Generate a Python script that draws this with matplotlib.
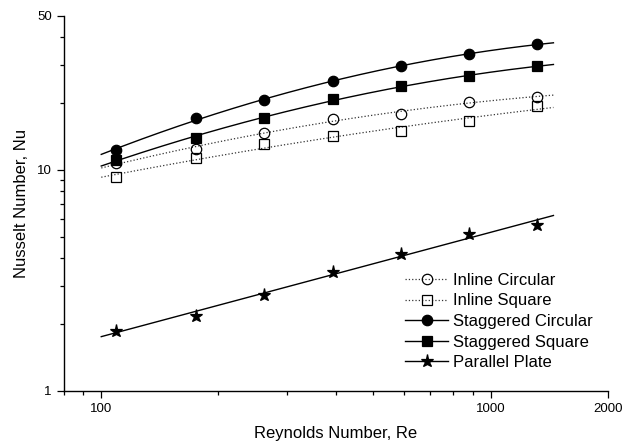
import numpy as np
import matplotlib
matplotlib.use("Agg")
import matplotlib.pyplot as plt
from matplotlib.ticker import FixedLocator, NullFormatter, FixedFormatter

plt.rcParams['font.family'] = ['Liberation Sans', 'DejaVu Sans']

# Data
re_vals = [109, 175, 262, 393, 587, 881, 1316]
inline_circular = [10.7, 12.5, 14.7, 17.05, 17.97, 20.4, 21.4]
inline_square = [9.32, 11.3, 13.08, 14.2, 15.0, 16.6, 19.5]
staggered_circular = [12.37, 17.12, 20.74, 25.2, 29.5, 33.6, 37.0]
staggered_square = [11.1, 14.0, 17.2, 20.95, 23.9, 26.7, 29.4]
parallel_plate = [1.87, 2.19, 2.73, 3.45, 4.18, 5.15, 5.62]

series_names = ["Inline Circular", "Inline Square", "Staggered Circular",
                "Staggered Square", "Parallel Plate"]
fit_range = (100, 1450)
x_ticks = [100, 1000, 2000]
x_ticklabels = ["100", "1000", "2000"]
y_ticks = [1, 10, 50]
y_ticklabels = ["1", "10", "50"]

fig = plt.figure(figsize=(6.34, 4.47), dpi=100)
ax = fig.add_axes([0.1002, 0.1253, 0.9587 - 0.1002, 0.9653 - 0.1253])

def fit_curve(x, y, deg):
    lx, ly = np.log10(x), np.log10(y)
    c = np.polyfit(lx, ly, deg)
    xf = np.logspace(np.log10(fit_range[0]), np.log10(fit_range[1]), 200)
    return xf, 10 ** np.polyval(c, np.log10(xf))

styles = [
    (inline_circular, 'o', ':', 'none', 7.5, 2),
    (inline_square, 's', ':', 'none', 6.8, 2),
    (staggered_circular, 'o', '-', 'black', 7.5, 2),
    (staggered_square, 's', '-', 'black', 6.8, 2),
    (parallel_plate, '*', '-', 'black', 9.5, 1),
]

handles = []
for (yv, mk, ls, fc, ms, deg), name in zip(styles, series_names):
    xf, yf = fit_curve(re_vals, yv, deg)
    lw = 0.9 if ls == ':' else 1.0
    col = '#333333' if ls == ':' else 'black'
    ax.plot(xf, yf, linestyle=ls, color=col, lw=lw, zorder=2)
    ax.plot(re_vals, yv, linestyle='none', marker=mk, ms=ms,
            mfc=fc, mec='black', mew=0.9, zorder=3)
    h, = ax.plot([], [], linestyle=ls, color=col, lw=lw, marker=mk, ms=ms,
                 mfc=fc, mec='black', mew=0.9)
    handles.append(h)

ax.set_xscale('log')
ax.set_yscale('log')
ax.set_xlim(80, 2000)
ax.set_ylim(1, 50)

ax.xaxis.set_major_locator(FixedLocator(x_ticks))
ax.xaxis.set_major_formatter(FixedFormatter(x_ticklabels))
ax.xaxis.set_minor_locator(FixedLocator([80, 90, 200, 300, 400, 500, 600, 700, 800, 900]))
ax.xaxis.set_minor_formatter(NullFormatter())
ax.yaxis.set_major_locator(FixedLocator(y_ticks))
ax.yaxis.set_major_formatter(FixedFormatter(y_ticklabels))
ax.yaxis.set_minor_locator(FixedLocator([2, 3, 4, 5, 6, 7, 8, 9, 20, 30, 40]))
ax.yaxis.set_minor_formatter(NullFormatter())

ax.spines['top'].set_visible(False)
ax.spines['right'].set_visible(False)
for s in ('left', 'bottom'):
    ax.spines[s].set_linewidth(1.0)

ax.tick_params(which='major', direction='out', length=5, width=0.9, labelsize=9.5, pad=3.5)
ax.tick_params(which='minor', direction='out', length=3, width=0.9)

ax.set_xlabel("Reynolds Number, Re", fontsize=12, labelpad=8)
ax.set_ylabel("Nusselt Number, Nu", fontsize=12, labelpad=6)

leg = fig.legend(handles, series_names, loc='upper left',
                 bbox_to_anchor=(405 / 634, 1 - 273 / 447),
                 bbox_transform=fig.transFigure, frameon=False,
                 fontsize=12, handlelength=2.6, handletextpad=0.3,
                 labelspacing=0.33, borderpad=0, borderaxespad=0, numpoints=1)

fig.savefig("out.png", dpi=100)
